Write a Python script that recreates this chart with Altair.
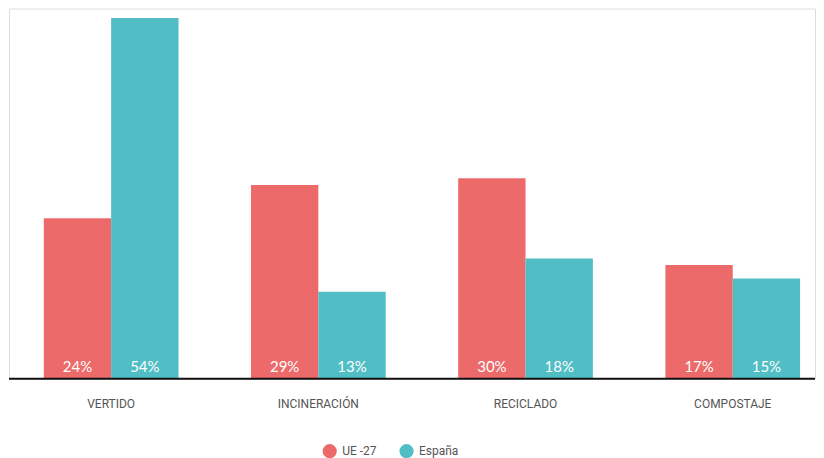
import altair as alt
import pandas as pd

categories = ["VERTIDO", "INCINERACIÓN", "RECICLADO", "COMPOSTAJE"]
series = ["UE -27", "España"]
ue27 = [24, 29, 30, 17]
espana = [54, 13, 18, 15]
colors = ["#EC6A6A", "#50BEC4"]

rows = []
for c, a, b in zip(categories, ue27, espana):
    rows.append({"cat": c, "serie": series[0], "val": a, "label": f"{a}%"})
    rows.append({"cat": c, "serie": series[1], "val": b, "label": f"{b}%"})
df = pd.DataFrame(rows)

xscale = alt.Scale(domain=categories, paddingInner=0.35, paddingOuter=0.12, align=0.70)
yscale = alt.Scale(domain=[0, 55.4], nice=False)
offscale = alt.Scale(domain=series, paddingInner=0, paddingOuter=0)

base = alt.Chart(df).encode(
    x=alt.X("cat:N", scale=xscale, sort=categories, title=None,
            axis=alt.Axis(domain=False, ticks=False, labelAngle=0, labelPadding=20,
                          labelFont="Liberation Sans Narrow, Roboto", labelFontSize=12,
                          labelColor="#555555")),
    xOffset=alt.XOffset("serie:N", scale=offscale, sort=series),
)

bars = base.mark_bar().encode(
    y=alt.Y("val:Q", scale=yscale, axis=None),
    color=alt.Color("serie:N", scale=alt.Scale(domain=series, range=colors), sort=series,
                    legend=alt.Legend(title=None, orient="none", legendX=314, legendY=436,
                                      direction="horizontal", symbolType="circle",
                                      symbolSize=200, symbolStrokeWidth=0, padding=0,
                                      labelFont="Liberation Sans Narrow, Roboto",
                                      labelFontSize=12, labelColor="#555555",
                                      columnPadding=22, labelOffset=5)),
)

labels = base.mark_text(color="white", font="Lato", fontSize=15, baseline="alphabetic", dy=-7).encode(
    y=alt.Y("datum_zero:Q", scale=yscale, axis=None),
    text="label:N",
).transform_calculate(datum_zero="0")

baseline = alt.Chart(pd.DataFrame({"z": [0]})).mark_rule(color="#111111", strokeWidth=2).encode(
    y=alt.Y("z:Q", scale=yscale, axis=None),
    x=alt.value(0),
    x2=alt.value(808),
)

chart = alt.layer(bars, labels, baseline).properties(
    width=808, height=371, padding=0
).configure_view(stroke="transparent", strokeWidth=0).configure(background="white")

chart.save("out.html", embed_options={"renderer": "svg", "actions": False})
